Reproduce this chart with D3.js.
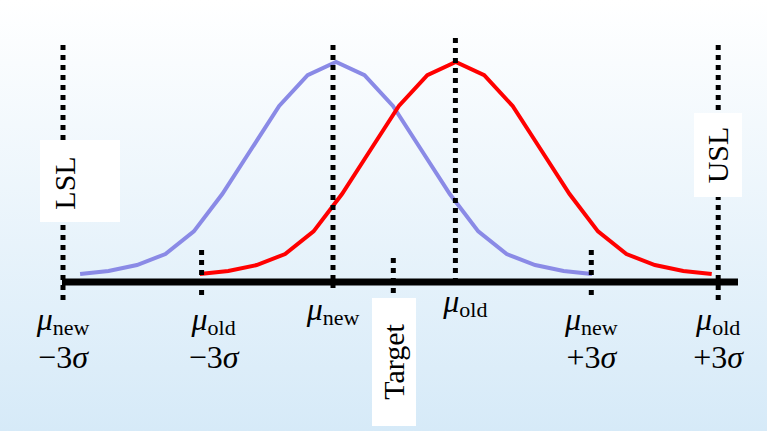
<!DOCTYPE html>
<html><head><meta charset="utf-8">
<script src="https://cdn.jsdelivr.net/npm/d3@7"></script>
<style>body{margin:0}svg{display:block}</style>
</head><body>
<svg width="767" height="431"></svg>
<script>
// curve heights (relative), read at equal steps along x
const curveHeights = [0.036, 0.05, 0.077, 0.127, 0.23, 0.40, 0.60, 0.80, 0.94, 1.0, 0.94, 0.80, 0.60, 0.40, 0.23, 0.127, 0.077, 0.05, 0.036];
const newStart = -2.81, oldStart = -1.48, step = 0.316;

// vertical dotted markers, x in sigma units from mu_new
const markerX = [-3, -1.46, 0, 0.67, 1.36, 2.87, 4.28];
const markerTop = [45, 250, 45, 258, 38, 250, 45];
const markerBottom = [300, 300, 288, 300, 282, 300, 300];

const svg = d3.select("svg");
const defs = svg.append("defs");
const g = defs.append("linearGradient").attr("id", "bg").attr("x1", 0).attr("x2", 0).attr("y1", 0).attr("y2", 1);
g.append("stop").attr("offset", "0%").attr("stop-color", "#ffffff");
g.append("stop").attr("offset", "100%").attr("stop-color", "#d6eaf8");
svg.append("rect").attr("width", 767).attr("height", 431).attr("fill", "url(#bg)");

const x = d3.scaleLinear().domain([-3.5, 4.5]).range([18, 738]);
const y = d3.scaleLinear().domain([0, 1]).range([282, 62]);

const line = d3.line().x(d => x(d[0])).y(d => y(d[1]));
svg.append("path").attr("d", line(curveHeights.map((h, i) => [newStart + i * step, h])))
  .attr("fill", "none").attr("stroke", "#8a8ae6").attr("stroke-width", 4);
svg.append("path").attr("d", line(curveHeights.map((h, i) => [oldStart + i * step, h])))
  .attr("fill", "none").attr("stroke", "#ff0000").attr("stroke-width", 4);

// baseline
svg.append("line").attr("x1", x(-3.5) + 44).attr("x2", x(4.5)).attr("y1", 282).attr("y2", 282)
  .attr("stroke", "#000").attr("stroke-width", 7);

svg.selectAll(".mk").data(markerX).join("line").attr("class", "mk")
  .attr("x1", d => x(d)).attr("x2", d => x(d))
  .attr("y1", (d, i) => markerTop[i]).attr("y2", (d, i) => markerBottom[i])
  .attr("stroke", "#000").attr("stroke-width", 5).attr("stroke-dasharray", "5,5");

// white label boxes over the markers
svg.append("rect").attr("x", 40).attr("y", 140).attr("width", 80).attr("height", 82).attr("fill", "#fff");
svg.append("rect").attr("x", 694).attr("y", 113).attr("width", 48).attr("height", 84).attr("fill", "#fff");
svg.append("rect").attr("x", 372).attr("y", 298).attr("width", 44).attr("height", 128).attr("fill", "#fff");

const serif = "Liberation Serif, Times New Roman, serif";
function rot(txt, cx, cy) {
  svg.append("text").attr("transform", `translate(${cx},${cy}) rotate(-90)`)
    .attr("text-anchor", "middle").attr("font-family", serif).attr("font-size", 30).text(txt);
}
rot("LSL", 75, 183);
rot("USL", 728, 155);
rot("Target", 404, 362);

function mu(sub, cx, cy, second) {
  const t = svg.append("text").attr("x", cx).attr("y", cy).attr("text-anchor", "middle")
    .attr("font-family", serif).attr("font-size", 32);
  t.append("tspan").attr("font-style", "italic").text("μ");
  t.append("tspan").attr("font-size", 22).attr("dy", 5).text(sub);
  if (second) {
    const s = svg.append("text").attr("x", cx).attr("y", cy + 38).attr("text-anchor", "middle")
      .attr("font-family", serif).attr("font-size", 32);
    s.append("tspan").text(second);
    s.append("tspan").attr("font-style", "italic").text("σ");
  }
}
mu("new", x(-3), 330, "\u22123");
mu("old", x(-1.46) + 12, 330, "\u22123");
mu("new", x(0), 320);
mu("old", x(1.36) + 10, 312);
mu("new", x(2.87), 330, "+3");
mu("old", x(4.28), 330, "+3");
</script>
</body></html>
